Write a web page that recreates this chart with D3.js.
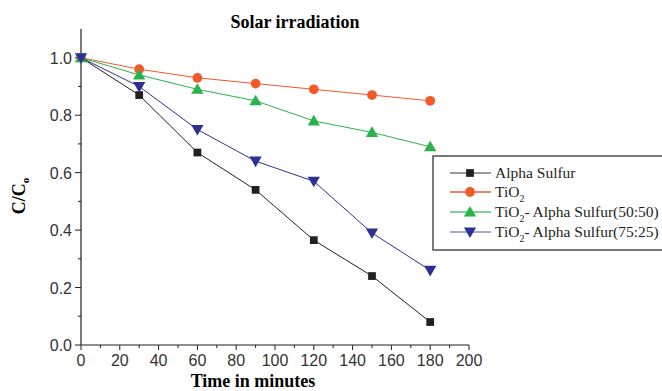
<!DOCTYPE html>
<html>
<head>
<meta charset="utf-8">
<script src="https://cdn.jsdelivr.net/npm/d3@7"></script>
<style>
  body { margin: 0; background: #fff; }
  svg { display: block; }
</style>
</head>
<body>
<svg id="chart" width="662" height="391"></svg>
<script>
// data
var times = [0, 30, 60, 90, 120, 150, 180];
var alphaSulfur = [1.0, 0.87, 0.67, 0.54, 0.365, 0.24, 0.08];
var tio2 = [1.0, 0.96, 0.93, 0.91, 0.89, 0.87, 0.85];
var tio2Alpha5050 = [1.0, 0.94, 0.89, 0.85, 0.78, 0.74, 0.69];
var tio2Alpha7525 = [1.0, 0.90, 0.75, 0.64, 0.57, 0.39, 0.26];
var xTicks = [0, 20, 40, 60, 80, 100, 120, 140, 160, 180, 200];
var yTicks = [0.0, 0.2, 0.4, 0.6, 0.8, 1.0];

var series = [
  {name: "Alpha Sulfur", values: alphaSulfur, color: "#231f20", legendLine: "#777", symbol: d3.symbolSquare, size: 60, rot: 0},
  {name: "TiO2", values: tio2, color: "#f15a29", legendLine: "#f15a29", symbol: d3.symbolCircle, size: 75, rot: 0},
  {name: "TiO2- Alpha Sulfur(50:50)", values: tio2Alpha5050, color: "#2bb34b", legendLine: "#55c56e", symbol: d3.symbolTriangle, size: 65, rot: 0},
  {name: "TiO2- Alpha Sulfur(75:25)", values: tio2Alpha7525, color: "#2e3192", legendLine: "#8a8fc8", symbol: d3.symbolTriangle, size: 65, rot: 180}
];

svg = d3.select("#chart");
margin = {left: 81, right: 193, top: 29, bottom: 46};
width = +svg.attr("width");
height = +svg.attr("height");

x = d3.scaleLinear().domain([0, 200]).range([margin.left, width - margin.right]);
y = d3.scaleLinear().domain([0, 1.1]).range([height - margin.bottom, margin.top]);

// x-axis
var xAxis = svg.append("g")
  .attr("transform", `translate(0, ${y(0)})`);
xAxis.append("line")
  .attr("x1", x(0)).attr("x2", x(200))
  .attr("stroke", "#231f20").attr("stroke-width", 1.2);
d3.range(0, 201, 10).forEach(function(v) {
  xAxis.append("line")
    .attr("x1", x(v)).attr("x2", x(v))
    .attr("y1", 0).attr("y2", v % 20 === 0 ? 5 : 3)
    .attr("stroke", "#231f20").attr("stroke-width", 1);
});
xAxis.selectAll("text.tick").data(xTicks).enter().append("text")
  .attr("x", d => x(d)).attr("y", 21)
  .attr("text-anchor", "middle")
  .attr("font-family", "Liberation Sans, Arial, sans-serif")
  .attr("font-size", 16).attr("fill", "#333")
  .text(d => d);

// y-axis
var yAxis = svg.append("g")
  .attr("transform", `translate(${x(0)}, 0)`);
yAxis.append("line")
  .attr("y1", y(0)).attr("y2", y(1.1))
  .attr("stroke", "#231f20").attr("stroke-width", 1.2);
d3.range(0, 11).forEach(function(i) {
  var v = i / 10;
  yAxis.append("line")
    .attr("x1", 0).attr("x2", i % 2 === 0 ? -6 : -3)
    .attr("y1", y(v)).attr("y2", y(v))
    .attr("stroke", "#231f20").attr("stroke-width", 1);
});
yAxis.selectAll("text.tick").data(yTicks).enter().append("text")
  .attr("x", -9).attr("y", d => y(d) + 6)
  .attr("text-anchor", "end")
  .attr("font-family", "Liberation Sans, Arial, sans-serif")
  .attr("font-size", 16).attr("fill", "#333")
  .text(d => d.toFixed(1));

// lines and markers
var line = d3.line().x((d, i) => x(times[i])).y(d => y(d));
series.forEach(function(s) {
  svg.append("path")
    .attr("d", line(s.values))
    .attr("fill", "none").attr("stroke", s.color).attr("stroke-width", 1);
  svg.append("g").selectAll("path").data(s.values).enter().append("path")
    .attr("d", d3.symbol().type(s.symbol).size(s.size))
    .attr("transform", (d, i) => `translate(${x(times[i])},${y(d) + (s.symbol === d3.symbolTriangle ? (s.rot ? -1 : 1) : 0)}) rotate(${s.rot})`)
    .attr("fill", s.color);
});

// title and axis labels
svg.append("text")
  .attr("x", 295).attr("y", 28)
  .attr("text-anchor", "middle")
  .attr("font-family", "Liberation Serif, Times New Roman, serif")
  .attr("font-weight", "bold").attr("font-size", 18)
  .text("Solar irradiation");

svg.append("text")
  .attr("x", 253).attr("y", 387)
  .attr("text-anchor", "middle")
  .attr("font-family", "Liberation Serif, Times New Roman, serif")
  .attr("font-weight", "bold").attr("font-size", 18)
  .text("Time in minutes");

var yLab = svg.append("text")
  .attr("transform", "translate(25, 196) rotate(-90)")
  .attr("text-anchor", "middle")
  .attr("font-family", "Liberation Serif, Times New Roman, serif")
  .attr("font-weight", "bold").attr("font-size", 18);
yLab.append("tspan").text("C/C");
yLab.append("tspan").attr("font-size", 11).attr("dy", 4).text("o");

// legend
var legend = svg.append("g");
legend.append("rect")
  .attr("x", 433).attr("y", 156).attr("width", 240).attr("height", 94)
  .attr("fill", "#fff").attr("stroke", "#231f20").attr("stroke-width", 1.2);
var rowY = [173, 192, 212, 232];
series.forEach(function(s, i) {
  var g = legend.append("g").attr("transform", `translate(0, ${rowY[i]})`);
  g.append("line").attr("x1", 450).attr("x2", 491)
    .attr("stroke", s.legendLine).attr("stroke-width", 1.5);
  g.append("path")
    .attr("d", d3.symbol().type(s.symbol).size(s.size))
    .attr("transform", `translate(470, ${s.symbol === d3.symbolTriangle ? (s.rot ? -1 : 1) : 0}) rotate(${s.rot})`)
    .attr("fill", s.color);
  var t = g.append("text").attr("x", 495).attr("y", 5)
    .attr("font-family", "Liberation Serif, Times New Roman, serif")
    .attr("font-size", 15.5).attr("fill", "#231f20");
  if (s.name.indexOf("TiO2") === 0) {
    t.append("tspan").text("TiO");
    t.append("tspan").attr("font-size", 10).attr("dy", 5).text("2");
    t.append("tspan").attr("dy", -5).text(s.name.slice(4));
  } else {
    t.text(s.name);
  }
});
</script>
</body>
</html>
